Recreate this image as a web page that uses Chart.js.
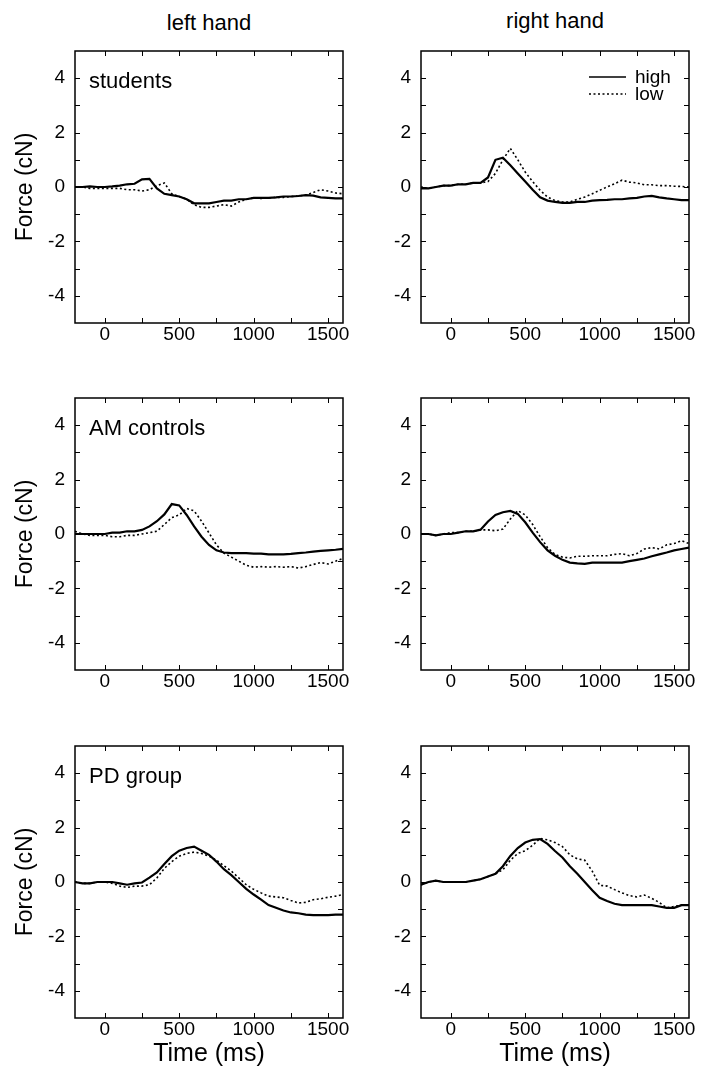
<!DOCTYPE html>
<html>
<head>
<meta charset="utf-8">
<script src="https://cdn.jsdelivr.net/npm/chart.js@4.4.1/dist/chart.umd.min.js"></script>
<style>
    body { margin: 0; background: #fff; width: 710px; height: 1074px; position: relative; overflow: hidden; }
    canvas { position: absolute; }
    .head { position: absolute; width: 200px; text-align: center; color: #000;
            font-family: "Liberation Sans", Arial, sans-serif; font-size: 22px; line-height: 22px; }
</style>
</head>
<body>
<script>
// time axis (ms) shared by every trace
const timeMs = [-200, -150, -100, -50, 0, 50, 100, 150, 200, 250, 300, 350, 400, 450, 500, 550, 600, 650,
    700, 750, 800, 850, 900, 950, 1000, 1050, 1100, 1150, 1200, 1250, 1300, 1350, 1400, 1450, 1500, 1550, 1600];

const xTickLabels = [0, 500, 1000, 1500];
const yTickLabels = [-4, -2, 0, 2, 4];
const xTickMarks = [0, 250, 500, 750, 1000, 1250, 1500];
const yTickMarks = [-4, -3, -2, -1, 0, 1, 2, 3, 4];

const hands = ['left hand', 'right hand'];
const groups = ['students', 'AM controls', 'PD group'];
const conditions = ['high', 'low'];

// force (cN)
const studentsLeftHigh = [0, 0, 0.02, 0, 0, 0.02, 0.05, 0.1, 0.12, 0.28, 0.3, -0.05, -0.25, -0.3, -0.35, -0.45, -0.6, -0.6,
    -0.6, -0.55, -0.5, -0.5, -0.45, -0.45, -0.4, -0.4, -0.4, -0.38, -0.35, -0.35, -0.33, -0.3, -0.32, -0.38, -0.4, -0.42, -0.42];
const studentsLeftLow = [0, 0, -0.05, -0.05, -0.05, -0.05, -0.05, -0.1, -0.1, -0.15, -0.1, 0.05, 0.15, -0.25, -0.35, -0.45, -0.65, -0.75,
    -0.75, -0.7, -0.65, -0.7, -0.55, -0.45, -0.4, -0.42, -0.4, -0.38, -0.38, -0.35, -0.33, -0.3, -0.2, -0.1, -0.15, -0.22, -0.25];
const studentsRightHigh = [-0.05, -0.05, 0, 0.05, 0.05, 0.1, 0.1, 0.15, 0.15, 0.35, 1.0, 1.08, 0.8, 0.5, 0.2, -0.1, -0.38, -0.5,
    -0.55, -0.58, -0.58, -0.55, -0.55, -0.5, -0.48, -0.47, -0.45, -0.45, -0.42, -0.4, -0.35, -0.33, -0.38, -0.42, -0.45, -0.48, -0.48];
const studentsRightLow = [0, -0.05, 0, 0.05, 0.05, 0.1, 0.1, 0.15, 0.15, 0.2, 0.5, 1.0, 1.42, 1.0, 0.55, 0.2, -0.12, -0.37,
    -0.5, -0.55, -0.55, -0.45, -0.37, -0.25, -0.12, 0, 0.12, 0.25, 0.18, 0.15, 0.08, 0.08, 0.05, 0.05, 0.03, 0.02, 0];
const amLeftHigh = [0, 0, 0, 0, 0, 0.05, 0.05, 0.1, 0.1, 0.15, 0.28, 0.47, 0.72, 1.1, 1.05, 0.7, 0.28, -0.1,
    -0.4, -0.6, -0.68, -0.7, -0.7, -0.7, -0.72, -0.72, -0.75, -0.75, -0.75, -0.73, -0.7, -0.68, -0.65, -0.62, -0.6, -0.58, -0.55];
const amLeftLow = [0.1, 0, -0.05, -0.05, -0.05, -0.1, -0.1, -0.05, -0.05, 0, 0.05, 0.1, 0.35, 0.6, 0.7, 0.94, 0.85, 0.47,
    0.04, -0.4, -0.7, -0.85, -1.0, -1.15, -1.22, -1.2, -1.22, -1.2, -1.22, -1.2, -1.25, -1.2, -1.12, -1.05, -1.1, -1.0, -0.9];
const amRightHigh = [0, 0, -0.05, 0, 0, 0.05, 0.1, 0.1, 0.16, 0.46, 0.7, 0.8, 0.85, 0.74, 0.43, 0.05, -0.3, -0.6,
    -0.8, -0.95, -1.05, -1.08, -1.1, -1.05, -1.05, -1.05, -1.05, -1.05, -1.0, -0.95, -0.9, -0.82, -0.75, -0.68, -0.6, -0.55, -0.5];
const amRightLow = [0, 0, -0.05, 0, 0.05, 0.05, 0.1, 0.1, 0.15, 0.15, 0.12, 0.18, 0.55, 0.86, 0.7, 0.35, -0.1, -0.5,
    -0.75, -0.85, -0.88, -0.82, -0.82, -0.8, -0.8, -0.8, -0.75, -0.72, -0.8, -0.72, -0.55, -0.5, -0.55, -0.4, -0.35, -0.25, -0.35];
const pdLeftHigh = [0, -0.05, -0.05, 0, 0, 0, -0.05, -0.1, -0.05, -0.02, 0.16, 0.35, 0.66, 0.95, 1.15, 1.25, 1.3, 1.15,
    1.0, 0.75, 0.47, 0.25, 0, -0.25, -0.46, -0.65, -0.85, -0.95, -1.05, -1.12, -1.15, -1.2, -1.22, -1.22, -1.22, -1.2, -1.2];
const pdLeftLow = [0, -0.05, -0.05, 0, 0, -0.05, -0.15, -0.2, -0.15, -0.15, -0.1, 0.15, 0.5, 0.75, 0.95, 1.05, 1.1, 1.05,
    0.95, 0.8, 0.6, 0.4, 0.15, -0.1, -0.27, -0.4, -0.52, -0.55, -0.58, -0.68, -0.77, -0.75, -0.65, -0.62, -0.56, -0.52, -0.46];
const pdRightHigh = [-0.1, 0, 0.05, 0, 0, 0, 0, 0.05, 0.1, 0.2, 0.3, 0.58, 0.96, 1.25, 1.45, 1.55, 1.58, 1.4,
    1.14, 0.9, 0.58, 0.3, 0, -0.3, -0.58, -0.7, -0.8, -0.85, -0.85, -0.85, -0.85, -0.85, -0.9, -0.95, -0.95, -0.85, -0.85];
const pdRightLow = [-0.1, 0, 0.05, 0, 0, 0, 0, 0.05, 0.1, 0.2, 0.3, 0.45, 0.8, 1.05, 1.15, 1.35, 1.6, 1.55,
    1.45, 1.3, 1.0, 0.85, 0.8, 0.4, -0.12, -0.15, -0.28, -0.4, -0.5, -0.55, -0.48, -0.6, -0.75, -0.95, -0.9, -0.85, -0.85];

const panels = [
    { row: 0, col: 0, high: studentsLeftHigh, low: studentsLeftLow },
    { row: 0, col: 1, high: studentsRightHigh, low: studentsRightLow },
    { row: 1, col: 0, high: amLeftHigh, low: amLeftLow },
    { row: 1, col: 1, high: amRightHigh, low: amRightLow },
    { row: 2, col: 0, high: pdLeftHigh, low: pdLeftLow },
    { row: 2, col: 1, high: pdRightHigh, low: pdRightLow }
];

// layout of the plot boxes on the page
const colLeft = [75, 421];
const rowTop = [51, 398, 746];
const plotW = 268, plotH = 272;
const FONT = '"Liberation Sans", Arial, Helvetica, sans-serif';
const INK = '#000';

Chart.defaults.font.family = FONT;
Chart.defaults.color = INK;

const framePlugin = {
    id: 'frame',
    afterDatasetsDraw(chart, args, opts) {
        const { ctx, chartArea: a } = chart;
        const x = chart.scales.x, y = chart.scales.y;
        ctx.save();
        ctx.strokeStyle = INK;
        ctx.lineWidth = 1;
        ctx.beginPath();
        xTickMarks.forEach(v => {
            const px = Math.round(x.getPixelForValue(v)) + 0.5;
            ctx.moveTo(px, a.bottom); ctx.lineTo(px, a.bottom - 5);
            ctx.moveTo(px, a.top); ctx.lineTo(px, a.top + 5);
        });
        yTickMarks.forEach(v => {
            const py = Math.round(y.getPixelForValue(v)) + 0.5;
            ctx.moveTo(a.left, py); ctx.lineTo(a.left + 5, py);
            ctx.moveTo(a.right, py); ctx.lineTo(a.right - 5, py);
        });
        ctx.stroke();
        ctx.lineWidth = 1.5;
        ctx.strokeRect(a.left, a.top, a.width, a.height);

        ctx.fillStyle = INK;
        ctx.textBaseline = 'alphabetic';
        if (opts.label) {
            ctx.font = '22px ' + FONT;
            ctx.textAlign = 'left';
            ctx.fillText(opts.label, a.left + 14, a.top + 37);
        }
        if (opts.legend) {
            ctx.font = '19px ' + FONT;
            chart.data.datasets.forEach((ds, i) => {
                const ly = a.top + 26 + i * 17;
                ctx.lineWidth = 1.3;
                ctx.setLineDash(ds.borderDash || []);
                ctx.beginPath();
                ctx.moveTo(a.right - 100, ly);
                ctx.lineTo(a.right - 63, ly);
                ctx.stroke();
                ctx.setLineDash([]);
                ctx.fillText(ds.label, a.right - 54, ly + 6);
            });
        }
        ctx.restore();
    }
};

function toPoints(values) {
    return timeMs.map((t, i) => ({ x: t, y: values[i] }));
}

function makePanel(p) {
    const isLeft = p.col === 0;
    const isBottom = p.row === 2;
    const yw = isLeft ? 63 : 40;
    const xh = isBottom ? 51 : 30;
    const padTop = 26, padRight = 20;
    const w = yw + plotW + padRight;
    const h = padTop + plotH + xh;

    const canvas = document.createElement('canvas');
    canvas.width = w;
    canvas.height = h;
    canvas.style.width = w + 'px';
    canvas.style.height = h + 'px';
    canvas.style.left = (colLeft[p.col] - yw) + 'px';
    canvas.style.top = (rowTop[p.row] - padTop) + 'px';
    document.body.appendChild(canvas);

    new Chart(canvas.getContext('2d'), {
        type: 'line',
        data: {
            datasets: [{
                label: conditions[0],
                data: toPoints(p.high),
                borderColor: INK,
                borderWidth: 2.2,
                pointRadius: 0,
                tension: 0
            }, {
                label: conditions[1],
                data: toPoints(p.low),
                borderColor: INK,
                borderWidth: 1.6,
                borderDash: [2, 2.5],
                pointRadius: 0,
                tension: 0
            }]
        },
        options: {
            responsive: false,
            animation: false,
            devicePixelRatio: 1,
            layout: { padding: { left: 0, top: padTop, right: padRight, bottom: 0 } },
            plugins: {
                legend: { display: false },
                tooltip: { enabled: false },
                frame: {
                    label: isLeft ? groups[p.row] : null,
                    legend: p.row === 0 && p.col === 1
                }
            },
            scales: {
                x: {
                    type: 'linear',
                    min: -200,
                    max: 1600,
                    afterBuildTicks: s => { s.ticks = xTickLabels.map(v => ({ value: v })); },
                    afterFit: s => { s.height = xh; },
                    grid: { display: false, drawTicks: false },
                    border: { display: false },
                    ticks: { padding: 0, maxRotation: 0, color: INK, font: { size: 19 }, callback: v => String(v) },
                    title: {
                        display: isBottom,
                        text: 'Time (ms)',
                        padding: 0,
                        color: INK,
                        font: { size: 25 }
                    }
                },
                y: {
                    min: -5,
                    max: 5,
                    afterBuildTicks: s => { s.ticks = yTickLabels.map(v => ({ value: v })); },
                    afterFit: s => { s.width = yw; },
                    grid: { display: false, drawTicks: false },
                    border: { display: false },
                    ticks: { padding: 10, color: INK, font: { size: 19 }, callback: v => String(v) },
                    title: {
                        display: isLeft,
                        text: 'Force (cN)',
                        padding: 0,
                        color: INK,
                        font: { size: 23 }
                    }
                }
            }
        },
        plugins: [framePlugin]
    });
}

// column headings
const headBaseline = [31, 29];
hands.forEach((text, col) => {
    const div = document.createElement('div');
    div.className = 'head';
    div.textContent = text;
    div.style.left = (colLeft[col] + plotW / 2 - 100) + 'px';
    div.style.top = (headBaseline[col] - 19) + 'px';
    document.body.appendChild(div);
});

panels.forEach(makePanel);
</script>
</body>
</html>
